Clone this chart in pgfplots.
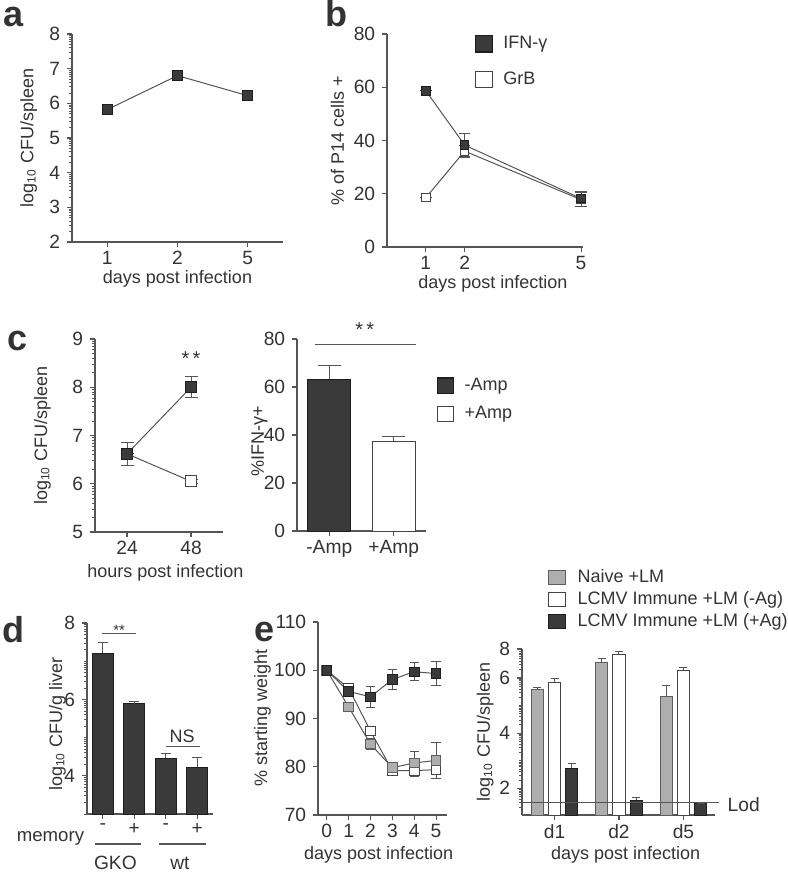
\documentclass[border=0pt]{standalone}
\usepackage{pgfplots}
\pgfplotsset{compat=1.18}
\usepackage{fontspec}
\setmainfont{Liberation Sans}
\definecolor{dk}{HTML}{3A3A3A}
\definecolor{dkedge}{HTML}{1E1E1E}
\definecolor{gr}{HTML}{AEAEAE}
\definecolor{gredge}{HTML}{5E5E5E}
\definecolor{axc}{HTML}{555555}
\definecolor{txc}{HTML}{333333}
\definecolor{lnc}{HTML}{555555}
\definecolor{wedge}{HTML}{444444}

\def\lm#1{#1.301,#1.477,#1.602,#1.699,#1.778,#1.845,#1.903,#1.954}
\edef\aminor{\lm2,\lm3,\lm4,\lm5,\lm6,\lm7}
\edef\cminor{\lm5,\lm6,\lm7,\lm8}
\edef\dminor{3,5,7,\lm3,\lm4,\lm5,\lm6,\lm7}
\edef\eminor{3,5,\lm1,\lm2,\lm3,\lm4,\lm5,\lm6}

\pgfplotsset{
  panel/.style={
    scale only axis,
    axis x line*=bottom, axis y line*=left,
    axis line style={-, draw=axc, line width=0.65pt},
    tick align=outside,
    major tick length=2.4pt, minor tick length=1.3pt,
    tick style={draw=axc, line width=0.55pt},
    minor tick style={draw=axc, line width=0.4pt},
    ticklabel style={font=\fontsize{9.6}{10}\selectfont, text=txc},
    xticklabel style={yshift=1.2pt},
    label style={font=\fontsize{9}{10}\selectfont, text=txc},
    /pgf/number format/assume math mode=true,
    legend cell align=left,
  },
  ebar/.style={error bars/.cd, y dir=both, y explicit,
    error bar style={draw=lnc, line width=0.5pt},
    error mark options={rotate=90, mark size=#1, draw=lnc, line width=0.5pt}},
  ebarp/.style={error bars/.cd, y dir=plus, y explicit,
    error bar style={draw=lnc, line width=0.5pt},
    error mark options={rotate=90, mark size=#1, draw=lnc, line width=0.5pt}},
}
\newcommand{\plab}{\fontsize{18}{18}\bfseries\selectfont}

\begin{document}
\begin{tikzpicture}
\path[use as bounding box] (0,0) rectangle (393.5pt,-436pt);

\node[anchor=base west, inner sep=0, font=\plab, text=txc] at (1.5pt,-13.5pt) {a};
\node[anchor=base west, inner sep=0, font=\plab, text=txc] at (162.5pt,-13.5pt) {b};
\node[anchor=base west, inner sep=0, font=\plab, text=txc] at (3.5pt,-175pt) {c};
\node[anchor=base west, inner sep=0, font=\plab, text=txc] at (1pt,-321pt) {d};
\node[anchor=base west, inner sep=0, font=\plab, text=txc] at (127pt,-320.5pt) {e};

% ---------------- a
\begin{axis}[panel, at={(36pt,-121pt)}, anchor=south west, width=105.5pt, height=104pt,
  xmin=0.5, xmax=3.5, ymin=2, ymax=8,
  xtick={1,2,3}, xticklabels={1,2,5}, ytick={2,3,4,5,6,7,8},
  minor ytick/.expanded={\aminor},
  xlabel={days post infection}, ylabel={log\textsubscript{10} CFU/spleen},
  xlabel style={at={(axis description cs:0.5,-0.175)}, anchor=center},
  ylabel style={at={(axis description cs:-0.205,0.5)}, anchor=center},
  clip=false]
\addplot[lnc, line width=0.5pt, mark=square*, mark size=2.5pt,
  mark options={fill=dk, draw=dkedge, line width=0.4pt}] table {
x y
1 5.82
2 6.80
3 6.22
};
\end{axis}

% ---------------- b
\begin{axis}[panel, at={(193.5pt,-123.5pt)}, anchor=south west, width=98pt, height=106.5pt,
  xmin=0, xmax=5.05, ymin=0, ymax=80,
  xtick={1,2,5}, ytick={0,20,40,60,80},
  xlabel={days post infection}, ylabel={\% of P14 cells +},
  xlabel style={at={(axis description cs:0.54,-0.175)}, anchor=center},
  ylabel style={at={(axis description cs:-0.253,0.5)}, anchor=center},
  clip=false,
  legend image code/.code={\draw[#1, line width=0.6pt] (0pt,-4.1pt) rectangle (8.6pt,4.1pt);},
  legend style={draw=none, fill=none, at={(axis description cs:0.449,0.995)}, anchor=north west,
    inner sep=0pt, outer sep=0pt, row sep=9pt, nodes={inner sep=0pt, text=txc},
    font=\fontsize{9}{10}\selectfont,
    /tikz/every odd column/.append style={column sep=5pt}}]
\addplot[forget plot, lnc, line width=0.5pt, mark=square*, mark size=2.1pt,
  mark options={fill=white, draw=wedge, line width=0.5pt}, ebar=2.9pt]
  table[x=x, y=y, y error=e] {
x y e
1 18.5 0
2 36.0 2.0
5 17.8 2.5
};
\addplot[forget plot, lnc, line width=0.5pt, mark=square*, mark size=2.1pt,
  mark options={fill=dk, draw=dkedge, line width=0.4pt}, ebar=2.9pt]
  table[x=x, y=y, y error=e] {
x y e
1 58.7 0
2 38.3 4.5
5 18.2 2.8
};
\addlegendimage{fill=dk, draw=dkedge}
\addlegendentry{IFN-γ}
\addlegendimage{fill=white, draw=wedge}
\addlegendentry{GrB}
\end{axis}

% ---------------- c left
\begin{axis}[panel, at={(47.5pt,-266pt)}, anchor=south west, width=64pt, height=96.5pt,
  xmin=0.5, xmax=2.5, ymin=5, ymax=9,
  xtick={1,2}, xticklabels={24,48}, ytick={5,6,7,8,9},
  minor ytick/.expanded={\cminor},
  xlabel={hours post infection}, ylabel={log\textsubscript{10} CFU/spleen},
  xlabel style={at={(axis description cs:0.55,-0.212)}, anchor=center},
  ylabel style={at={(axis description cs:-0.41,0.5)}, anchor=center},
  clip=false]
\addplot[lnc, line width=0.5pt, mark=square*, mark size=2.75pt,
  mark options={fill=white, draw=wedge, line width=0.5pt}, ebar=3.25pt]
  table[x=x, y=y, y error=e] {
x y e
1 6.62 0
2 6.05 0.04
};
\addplot[lnc, line width=0.5pt, mark=square*, mark size=2.75pt,
  mark options={fill=dk, draw=dkedge, line width=0.4pt}, ebar=3.25pt]
  table[x=x, y=y, y error=e] {
x y e
1 6.62 0.24
2 8.00 0.22
};
\node[font=\fontsize{10}{10}\selectfont, text=txc] at (axis cs:2,8.6) {*\,*};
\end{axis}

% ---------------- c right
\begin{axis}[panel, at={(148.5pt,-265.5pt)}, anchor=south west, width=64.5pt, height=96pt,
  xmin=0.5, xmax=2.5, ymin=0, ymax=80,
  xtick={1,2}, xticklabels={-Amp,+Amp}, ytick={0,20,40,60,80},
  ylabel={\%IFN-γ+},
  ylabel style={at={(axis description cs:-0.29,0.47)}, anchor=center},
  clip mode=individual,
  legend image code/.code={\draw[#1, line width=0.6pt] (0pt,-3.8pt) rectangle (8pt,3.8pt);},
  legend style={draw=none, fill=none, at={(axis description cs:1.083,0.80)}, anchor=north west,
    inner sep=0pt, outer sep=0pt, row sep=6pt, nodes={inner sep=0pt, text=txc},
    font=\fontsize{9}{10}\selectfont,
    /tikz/every odd column/.append style={column sep=5.3pt}}]
\addplot[forget plot, ybar, bar width=21.5pt, bar shift=0pt, fill=dk, draw=dkedge, line width=0.5pt, ebarp=5.75pt]
  table[x=x, y=y, y error=e] {
x y e
1 63.3 5.5
};
\addplot[forget plot, ybar, bar width=21.5pt, bar shift=0pt, fill=white, draw=wedge, line width=0.5pt, ebarp=5.75pt]
  table[x=x, y=y, y error=e] {
x y e
2 37.5 2.0
};
\draw[lnc, line width=0.6pt] (axis cs:0.78,77.8) -- (axis cs:2.35,77.8);
\node[font=\fontsize{10}{10}\selectfont, text=txc] at (axis cs:1.55,84) {*\,*};
\addlegendimage{fill=dk, draw=dkedge}
\addlegendentry{-Amp}
\addlegendimage{fill=white, draw=wedge}
\addlegendentry{+Amp}
\end{axis}

% ---------------- d
\begin{axis}[panel, at={(43.5pt,-407pt)}, anchor=south west, width=63pt, height=95.5pt,
  xmin=0.5, xmax=4.5, ymin=3, ymax=8,
  xtick={1,2,3,4}, xticklabels={-,+,-,+}, ytick={4,6,8},
  minor ytick/.expanded={\dminor},
  ylabel={log\textsubscript{10} CFU/g liver},
  ylabel style={at={(axis description cs:-0.234,0.47)}, anchor=center},
  clip mode=individual]
\addplot[ybar, bar width=10.5pt, bar shift=0pt, fill=dk, draw=dkedge, line width=0.5pt, ebarp=2.5pt]
  table[x=x, y=y, y error=e] {
x y e
1 7.21 0.29
2 5.88 0.07
3 4.46 0.13
4 4.22 0.26
};
\draw[lnc, line width=0.6pt] (axis cs:0.98,7.73) -- (axis cs:2.06,7.73);
\node[font=\fontsize{7.5}{8}\selectfont, text=txc] at (axis cs:1.52,7.82) {**};
\draw[lnc, line width=0.6pt] (axis cs:3.02,4.76) -- (axis cs:4.08,4.76);
\node[font=\fontsize{9}{10}\selectfont, text=txc] at (axis cs:3.52,5.03) {NS};
\node[anchor=base east, inner sep=0pt, font=\fontsize{9.3}{10}\selectfont, text=txc] at (axis cs:0.42,2.29) {memory};
\draw[axc, line width=0.9pt] (axis cs:0.74,2.22) -- (axis cs:2.215,2.22);
\draw[axc, line width=0.9pt] (axis cs:2.79,2.22) -- (axis cs:4.28,2.22);
\node[font=\fontsize{9.6}{10}\selectfont, text=txc] at (axis cs:1.40,1.72) {GKO};
\node[font=\fontsize{9.6}{10}\selectfont, text=txc] at (axis cs:3.45,1.72) {wt};
\end{axis}

% ---------------- e left
\begin{axis}[panel, at={(159pt,-407.5pt)}, anchor=south west, width=64.5pt, height=96.5pt,
  xmin=-0.4, xmax=5.5, ymin=70, ymax=110,
  xtick={0,1,2,3,4,5}, ytick={70,80,90,100,110},
  xlabel={days post infection}, ylabel={\% starting weight},
  xlabel style={at={(axis description cs:0.47,-0.207)}, anchor=center},
  ylabel style={at={(axis description cs:-0.43,0.505)}, anchor=center},
  clip=false]
\addplot[lnc, line width=0.5pt, mark=square*, mark size=2.4pt,
  mark options={fill=white, draw=wedge, line width=0.5pt}, ebar=2.3pt]
  table[x=x, y=y, y error=e] {
x y e
0 100.0 0
1 96.3 0.8
2 87.4 1.0
3 79.2 0.5
4 79.2 1.2
5 79.4 1.8
};
\addplot[lnc, line width=0.5pt, mark=square*, mark size=2.4pt,
  mark options={fill=gr, draw=gredge, line width=0.5pt}, ebar=2.3pt]
  table[x=x, y=y, y error=e] {
x y e
0 100.0 0
1 92.4 0.5
2 84.7 1.2
3 79.8 0.7
4 80.8 2.4
5 81.3 3.8
};
\addplot[lnc, line width=0.5pt, mark=square*, mark size=2.4pt,
  mark options={fill=dk, draw=dkedge, line width=0.4pt}, ebar=2.3pt]
  table[x=x, y=y, y error=e] {
x y e
0 100.0 0
1 95.6 1.0
2 94.5 2.2
3 98.1 2.0
4 99.7 1.9
5 99.3 2.5
};
\end{axis}

% ---------------- e right  (bars of a day sit at day-0.267, day, day+0.267)
\begin{axis}[panel, at={(261pt,-407.5pt)}, anchor=south west, width=96.5pt, height=83pt,
  xmin=0.495, xmax=3.49, ymin=1.03, ymax=7.05,
  xtick={1,2,3}, xticklabels={d1,d2,d5}, ytick={2,4,6,7.05}, yticklabels={2,4,6,8},
  minor ytick/.expanded={\eminor},
  xlabel={days post infection}, ylabel={log\textsubscript{10} CFU/spleen},
  xlabel style={at={(axis description cs:0.537,-0.241)}, anchor=center},
  ylabel style={at={(axis description cs:-0.19,0.5)}, anchor=center},
  clip mode=individual,
  legend image code/.code={\draw[#1, line width=0.6pt] (0pt,-3.6pt) rectangle (8.3pt,3.6pt);},
  legend style={draw=none, fill=none, at={(axis description cs:0.136,1.48)}, anchor=north west,
    inner sep=0pt, outer sep=0pt, row sep=3pt, nodes={inner sep=0pt, text=txc},
    font=\fontsize{9}{10}\selectfont,
    /tikz/every odd column/.append style={column sep=5.8pt}}]
\addplot[forget plot, ybar, bar width=6.15pt, bar shift=0pt, fill=gr, draw=gredge, line width=0.5pt, ebarp=2pt]
  table[x=x, y=y, y error=e] {
x y e
0.733 5.57 0.08
1.733 6.57 0.12
2.733 5.32 0.40
};
\addplot[forget plot, ybar, bar width=6.15pt, bar shift=0pt, fill=white, draw=wedge, line width=0.5pt, ebarp=2pt]
  table[x=x, y=y, y error=e] {
x y e
1 5.85 0.12
2 6.84 0.11
3 6.26 0.11
};
\addplot[forget plot, ybar, bar width=6.15pt, bar shift=0pt, fill=dk, draw=dkedge, line width=0.5pt, ebarp=2pt]
  table[x=x, y=y, y error=e] {
x y e
1.267 2.73 0.18
2.267 1.57 0.08
3.267 1.45 0
};
\draw[lnc, line width=0.5pt] (axis cs:0.495,1.477) -- (axis cs:3.55,1.477);
\node[anchor=west, inner sep=0pt, font=\fontsize{9.6}{10}\selectfont, text=txc] at (axis cs:3.68,1.40) {Lod};
\addlegendimage{fill=gr, draw=gredge}
\addlegendentry{Naive +LM}
\addlegendimage{fill=white, draw=wedge}
\addlegendentry{LCMV Immune +LM (-Ag)}
\addlegendimage{fill=dk, draw=dkedge}
\addlegendentry{LCMV Immune +LM (+Ag)}
\end{axis}
\end{tikzpicture}
\end{document}
